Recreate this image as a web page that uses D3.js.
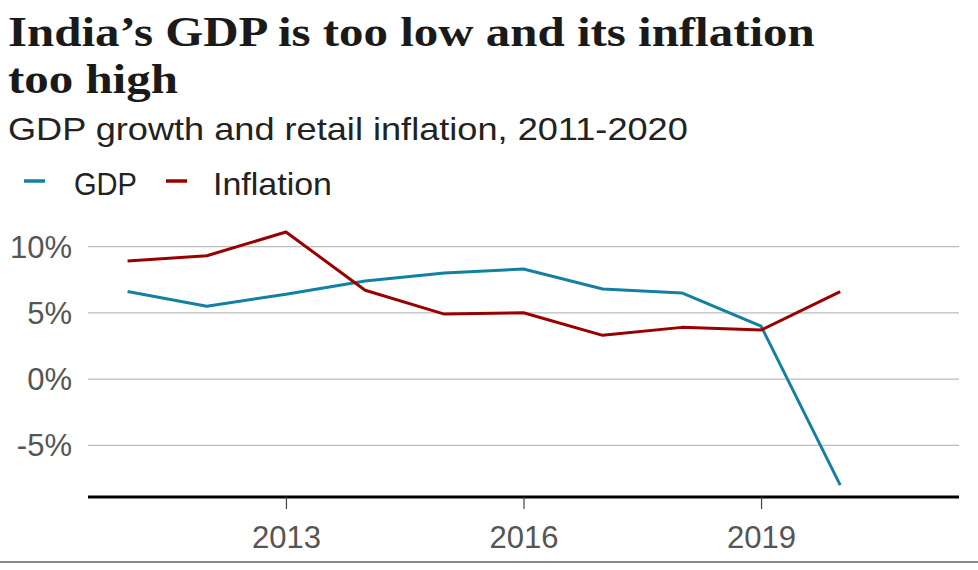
<!DOCTYPE html>
<html>
<head>
<meta charset="utf-8">
<script src="https://cdn.jsdelivr.net/npm/d3@7"></script>
<style>
  html, body { margin: 0; padding: 0; background: #fff; }
  svg { display: block; }
</style>
</head>
<body>
<div id="chart"></div>
<script>
// ---- data ----
const years = [2011, 2012, 2013, 2014, 2015, 2016, 2017, 2018, 2019, 2020];
const gdp = [6.6, 5.5, 6.4, 7.4, 8.0, 8.3, 6.8, 6.5, 4.0, -8.0];
const inflation = [8.9, 9.3, 11.1, 6.7, 4.9, 5.0, 3.3, 3.9, 3.7, 6.6];
const xTicks = [2013, 2016, 2019];
const yTicks = [10, 5, 0, -5];
const seriesNames = ["GDP", "Inflation"];
const colors = ["#1380A1", "#990000"];
const title = ["India\u2019s GDP is too low and its inflation", "too high"];
const subtitle = "GDP growth and retail inflation, 2011-2020";

// ---- layout ----
const W = 978, H = 570;
const svg = d3.select("#chart").append("svg").attr("width", W).attr("height", H);
const SANS = "'Liberation Sans', Arial, sans-serif";

const x = d3.scaleLinear().domain([2010.5, 2021.5]).range([88, 959]);
const y = d3.scaleLinear().domain([-8.9, 11.7]).range([497, 224]);

// title
const tText = svg.selectAll("text.title").data(title).join("text")
  .attr("class", "title")
  .attr("x", 0)
  .attr("y", (d, i) => 46 + i * 47)
  .attr("font-family", "'Liberation Serif', serif")
  .attr("font-weight", "bold")
  .attr("font-size", 42)
  .attr("fill", "#1a1a1a")
  .text(d => d);
const natural = tText.nodes()[0].getComputedTextLength();
const sx = 807 / natural;
tText.attr("transform", `translate(8,0) scale(${sx},1)`);

// subtitle
const st = svg.append("text")
  .attr("x", 0).attr("y", 140)
  .attr("font-family", SANS)
  .attr("font-size", 30.5)
  .attr("fill", "#222")
  .text(subtitle);
const stw = st.node().getComputedTextLength();
st.attr("transform", `translate(8,0) scale(${680 / stw},1)`);

// legend
const legendDashX = [24, 166];
const legendTextX = [74, 213];
const legendTextW = [63, 119];
const lg = svg.append("g");
seriesNames.forEach((name, i) => {
  lg.append("line")
    .attr("x1", legendDashX[i]).attr("x2", legendDashX[i] + 21)
    .attr("y1", 181).attr("y2", 181)
    .attr("stroke", colors[i]).attr("stroke-width", 3.5);
  lg.append("text")
    .attr("x", legendTextX[i]).attr("y", 195)
    .attr("font-family", SANS)
    .attr("font-size", 32)
    .attr("fill", "#222")
    .attr("textLength", legendTextW[i])
    .attr("lengthAdjust", "spacingAndGlyphs")
    .text(name);
});

// gridlines
svg.append("g").selectAll("line").data(yTicks).join("line")
  .attr("x1", 88).attr("x2", 959)
  .attr("y1", d => y(d)).attr("y2", d => y(d))
  .attr("stroke", "#bdbdbd").attr("stroke-width", 1.3);

// y labels
svg.append("g").selectAll("text").data(yTicks).join("text")
  .attr("x", 72).attr("y", d => y(d))
  .attr("dy", "0.36em")
  .attr("text-anchor", "end")
  .attr("font-family", SANS)
  .attr("font-size", 31)
  .attr("fill", "#555")
  .text(d => d + "%");

// x axis
const xAxis = d3.axisBottom(x).tickValues(xTicks).tickFormat(d3.format("d")).tickSize(12).tickPadding(17);
const ax = svg.append("g").attr("transform", `translate(0,${y.range()[0]})`).call(xAxis);
ax.select(".domain").attr("stroke", "#000").attr("stroke-width", 3).attr("d", `M88,0H959`);
ax.selectAll(".tick line").attr("stroke", "#444").attr("stroke-width", 1.2);
ax.selectAll(".tick text")
  .attr("font-family", SANS)
  .attr("font-size", 31)
  .attr("fill", "#555");

// lines
const series = [gdp, inflation];
const line = d3.line().x((d, i) => x(years[i])).y(d => y(d));
svg.append("g").selectAll("path").data(series).join("path")
  .attr("d", d => line(d))
  .attr("fill", "none")
  .attr("stroke", (d, i) => colors[i])
  .attr("stroke-width", 3)
  .attr("stroke-linejoin", "round");

// footer separator
svg.append("line")
  .attr("x1", 0).attr("x2", W).attr("y1", 562).attr("y2", 562)
  .attr("stroke", "#888").attr("stroke-width", 2);
</script>
</body>
</html>
